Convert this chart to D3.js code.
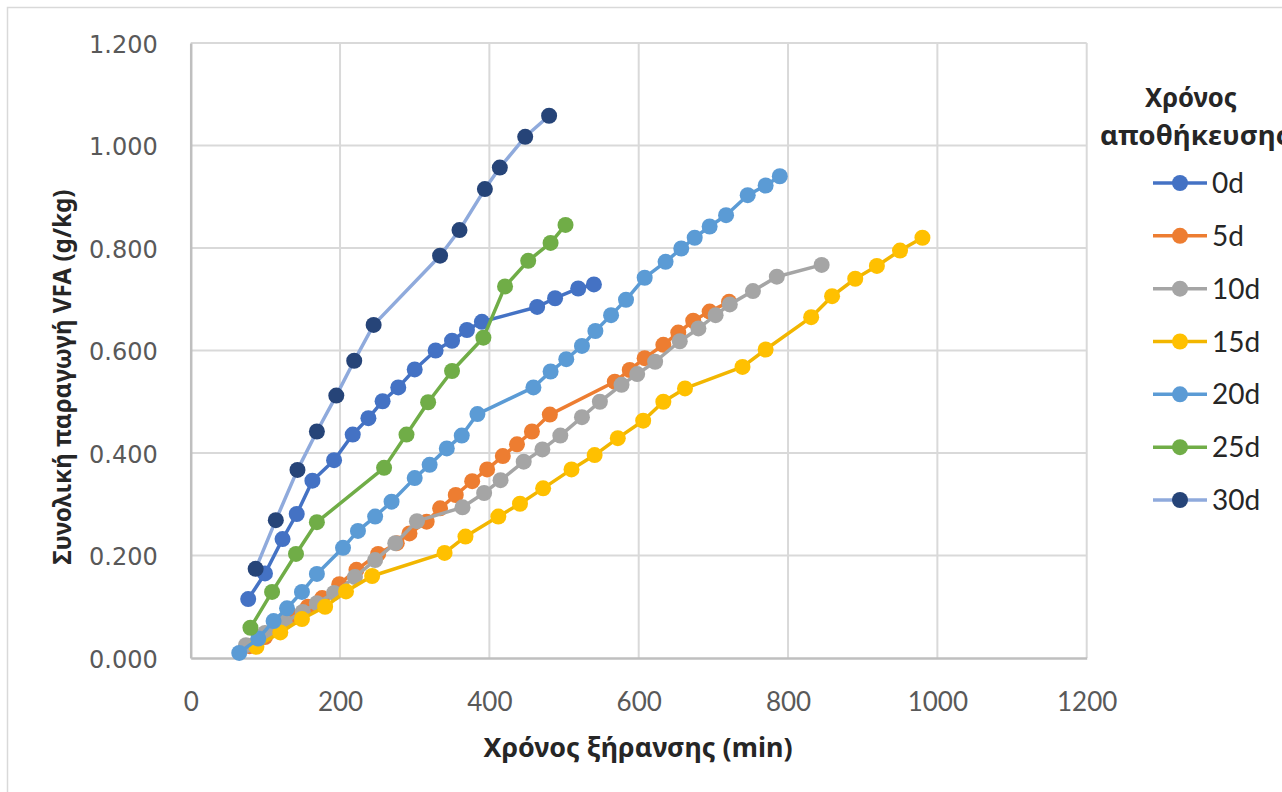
<!DOCTYPE html>
<html>
<head>
<meta charset="utf-8">
<script src="https://cdn.jsdelivr.net/npm/d3@7"></script>
<style>
  html, body { margin: 0; padding: 0; background: #fff; }
  svg { display: block; }
</style>
</head>
<body>
<svg id="chart" width="1282" height="792"></svg>
<script>
// Drying time (min) and cumulative VFA production (g/kg) per storage time
const seriesNames = ["0d", "5d", "10d", "15d", "20d", "25d", "30d"];

const time0d = [77, 99.5, 123, 142, 163, 192, 217, 238, 257, 278, 300, 328, 350, 370, 390, 464, 488, 519, 540];
const vfa0d  = [0.115, 0.165, 0.232, 0.281, 0.346, 0.386, 0.436, 0.468, 0.501, 0.528, 0.563, 0.600, 0.619, 0.640, 0.656, 0.685, 0.702, 0.721, 0.729];

const time5d = [79, 99.5, 120, 138, 157, 176, 199, 222, 251, 276, 293, 316, 334, 355, 377, 397, 418, 437, 457, 481, 568, 588, 608, 633, 653, 673, 695, 721];
const vfa5d  = [0.023, 0.041, 0.060, 0.080, 0.100, 0.117, 0.144, 0.172, 0.203, 0.224, 0.243, 0.266, 0.292, 0.318, 0.345, 0.368, 0.394, 0.417, 0.442, 0.475, 0.539, 0.562, 0.585, 0.611, 0.635, 0.658, 0.676, 0.695];

const time10d = [74, 99.5, 126, 150, 169, 192, 220, 247, 274, 303, 364, 393, 415, 446, 471, 495, 524, 548, 577, 598, 622, 655, 680, 703, 722, 753, 785, 845];
const vfa10d  = [0.025, 0.049, 0.070, 0.090, 0.107, 0.127, 0.158, 0.191, 0.224, 0.267, 0.294, 0.322, 0.347, 0.383, 0.407, 0.434, 0.470, 0.500, 0.533, 0.554, 0.578, 0.618, 0.643, 0.669, 0.690, 0.716, 0.744, 0.767];

const time15d = [88, 120, 149, 180, 208, 243, 340, 368, 412, 441, 472, 510, 541, 572, 606, 633, 662, 739, 770, 831, 859, 890, 919, 950, 980];
const vfa15d  = [0.022, 0.050, 0.076, 0.100, 0.130, 0.160, 0.205, 0.237, 0.276, 0.301, 0.331, 0.368, 0.396, 0.429, 0.463, 0.500, 0.526, 0.568, 0.602, 0.665, 0.706, 0.740, 0.765, 0.795, 0.820];

const time20d = [65, 90.5, 111, 129, 149, 169, 204, 224, 247, 269, 300, 320, 343, 363, 384, 459, 482, 503, 524, 542, 563, 583, 608, 636, 657, 675, 695, 717, 746, 770, 789];
const vfa20d  = [0.010, 0.038, 0.072, 0.097, 0.129, 0.164, 0.215, 0.248, 0.276, 0.305, 0.351, 0.377, 0.409, 0.434, 0.476, 0.528, 0.559, 0.583, 0.609, 0.638, 0.669, 0.699, 0.742, 0.773, 0.799, 0.820, 0.842, 0.864, 0.903, 0.922, 0.940];

const time25d = [80, 109, 141, 169, 259, 289, 318, 350, 392, 421, 452, 482, 502];
const vfa25d  = [0.059, 0.129, 0.203, 0.265, 0.371, 0.436, 0.499, 0.560, 0.625, 0.725, 0.775, 0.810, 0.845];

const time30d = [87, 114, 143, 169, 195, 219, 245, 334, 360, 394, 414, 448, 480];
const vfa30d  = [0.174, 0.269, 0.367, 0.442, 0.512, 0.580, 0.650, 0.785, 0.835, 0.915, 0.957, 1.017, 1.058];

const xTicks = [0, 200, 400, 600, 800, 1000, 1200];
const yTicks = [0, 0.2, 0.4, 0.6, 0.8, 1.0, 1.2];

const lineColors   = ["#4472C4", "#ED7D31", "#A5A5A5", "#F2B600", "#5B9BD5", "#70AD47", "#8FAADC"];
const markerColors = ["#4472C4", "#ED7D31", "#A5A5A5", "#FFC000", "#5B9BD5", "#70AD47", "#264478"];

const times = [time0d, time5d, time10d, time15d, time20d, time25d, time30d];
const vfas  = [vfa0d, vfa5d, vfa10d, vfa15d, vfa20d, vfa25d, vfa30d];
const series = seriesNames.map((name, i) => ({
  name,
  line: lineColors[i],
  marker: markerColors[i],
  points: times[i].map((t, j) => ({ t, v: vfas[i][j] }))
}));

const svg = d3.select("#chart");

// outer chart frame
svg.append("rect")
  .attr("x", 7.5).attr("y", 7.5)
  .attr("width", 1300).attr("height", 800)
  .attr("fill", "#fff").attr("stroke", "#D9D9D9").attr("stroke-width", 1.5);

const x = d3.scaleLinear().domain([0, 1200]).range([190.7, 1086.7]);
const y = d3.scaleLinear().domain([0, 1.2]).range([658, 43]);

// gridlines
const grid = svg.append("g");
grid.selectAll("line.h").data(yTicks.slice(1)).join("line")
  .attr("x1", x(0)).attr("x2", x(1200))
  .attr("y1", d => y(d)).attr("y2", d => y(d))
  .attr("stroke", "#D9D9D9").attr("stroke-width", 2);
grid.selectAll("line.v").data(xTicks.slice(1)).join("line")
  .attr("x1", d => x(d)).attr("x2", d => x(d))
  .attr("y1", y(0)).attr("y2", y(1.2))
  .attr("stroke", "#D9D9D9").attr("stroke-width", 2);

// axes
const xAxis = svg.append("g")
  .attr("transform", `translate(0,${y(0)})`)
  .call(d3.axisBottom(x).tickValues(xTicks).tickSize(0).tickPadding(0).tickFormat(d3.format("d")));
xAxis.select(".domain").attr("stroke", "#BFBFBF").attr("stroke-width", 2.5);
xAxis.selectAll("text")
  .attr("dy", null).attr("y", 53)
  .attr("fill", "#595959")
  .style("font-family", "Lato, 'Noto Sans', sans-serif").style("font-size", "26px");

const yAxis = svg.append("g")
  .attr("transform", `translate(${x(0)},0)`)
  .call(d3.axisLeft(y).tickValues(yTicks).tickSize(0).tickPadding(0).tickFormat(d3.format(".3f")));
yAxis.select(".domain").attr("stroke", "#BFBFBF").attr("stroke-width", 2.5);
yAxis.selectAll("text")
  .attr("x", -33).attr("dy", "0.38em")
  .attr("fill", "#595959")
  .style("font-family", "'DejaVu Sans', sans-serif").style("font-size", "24px");

// series: line then markers
const line = d3.line().x(d => x(d.t)).y(d => y(d.v));
const plot = svg.append("g");
series.forEach(s => {
  const g = plot.append("g");
  g.append("path")
    .attr("d", line(s.points))
    .attr("fill", "none")
    .attr("stroke", s.line)
    .attr("stroke-width", 3.5)
    .attr("stroke-linejoin", "round");
  g.selectAll("circle").data(s.points).join("circle")
    .attr("cx", d => x(d.t)).attr("cy", d => y(d.v))
    .attr("r", 8)
    .attr("fill", s.marker);
});

// axis titles
svg.append("text")
  .attr("x", 638).attr("y", 757)
  .attr("text-anchor", "middle")
  .attr("textLength", 309).attr("lengthAdjust", "spacingAndGlyphs")
  .attr("fill", "#262626")
  .style("font-family", "'Noto Sans', sans-serif").style("font-weight", "bold").style("font-size", "26px")
  .text("Χρόνος ξήρανσης (min)");

svg.append("text")
  .attr("transform", "translate(71,377) rotate(-90)")
  .attr("text-anchor", "middle")
  .attr("textLength", 375).attr("lengthAdjust", "spacingAndGlyphs")
  .attr("fill", "#262626")
  .style("font-family", "'Noto Sans', sans-serif").style("font-weight", "bold").style("font-size", "25px")
  .text("Συνολική παραγωγή VFA (g/kg)");

// legend
const legend = svg.append("g");
legend.append("text")
  .attr("x", 1191).attr("y", 107)
  .attr("text-anchor", "middle")
  .attr("textLength", 92).attr("lengthAdjust", "spacingAndGlyphs")
  .attr("fill", "#262626")
  .style("font-family", "'Noto Sans', sans-serif").style("font-weight", "bold").style("font-size", "26px")
  .text("Χρόνος");
legend.append("text")
  .attr("x", 1100).attr("y", 145)
  .attr("textLength", 190).attr("lengthAdjust", "spacingAndGlyphs")
  .attr("fill", "#262626")
  .style("font-family", "'Noto Sans', sans-serif").style("font-weight", "bold").style("font-size", "26px")
  .text("αποθήκευσης");

const legendY = d3.scalePoint().domain(seriesNames).range([183, 500]);
const item = legend.selectAll("g.item").data(series).join("g")
  .attr("transform", d => `translate(0,${legendY(d.name)})`);
item.append("line")
  .attr("x1", 1153).attr("x2", 1207)
  .attr("stroke", d => d.line).attr("stroke-width", 3.5);
item.append("circle")
  .attr("cx", 1180).attr("r", 8)
  .attr("fill", d => d.marker);
item.append("text")
  .attr("x", 1212).attr("dy", "0.36em")
  .attr("fill", "#262626")
  .style("font-family", "Lato, 'Noto Sans', sans-serif").style("font-size", "28px")
  .text(d => d.name);
</script>
</body>
</html>
